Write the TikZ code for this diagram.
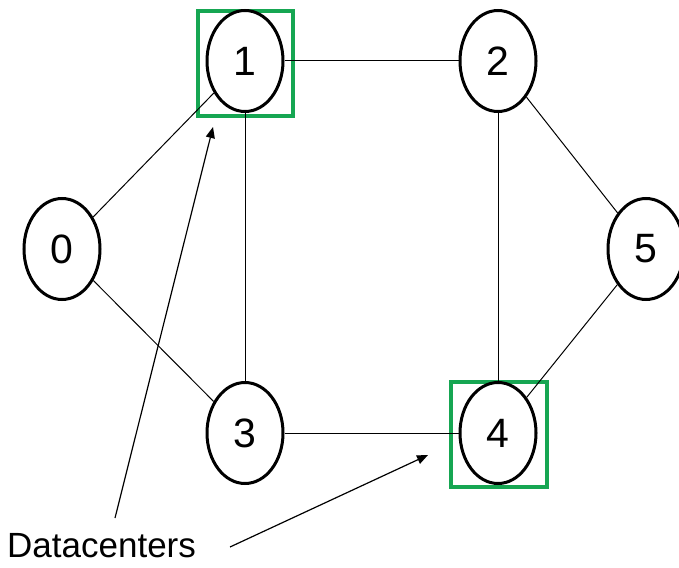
\documentclass[tikz,border=0pt]{standalone}
\usepackage{fontspec}
\setmainfont{Liberation Sans}
\usetikzlibrary{shapes.geometric,arrows.meta}
\definecolor{dcgreen}{RGB}{22,166,82}
\begin{document}
\begin{tikzpicture}[x=1pt,y=-1pt,
  vert/.style={ellipse,draw=black,fill=white,line width=3pt,minimum width=76pt,minimum height=101pt,inner sep=0pt,font=\fontsize{41}{48}\selectfont},
  dcbox/.style={rectangle,draw=dcgreen,line width=4pt,inner sep=0pt},
  edge/.style={draw=black,line width=1pt},
  pointer/.style={draw=black,line width=1.2pt,-{Triangle[length=11pt,width=9pt]}}]
\useasboundingbox (0,0) rectangle (679,567);
\node[dcbox,minimum width=95pt,minimum height=104pt] (b1) at (245,63.5) {};
\node[dcbox,minimum width=96pt,minimum height=105pt] (b4) at (498.5,434) {};
\node[vert] (n0) at (62,249) {0};
\node[vert] (n1) at (245,61) {1};
\node[vert] (n2) at (498,61) {2};
\node[vert] (n3) at (245,433) {3};
\node[vert] (n4) at (498,433) {4};
\node[vert] (n5) at (646,249) {5};
\draw[edge] (n0) -- (n1);
\draw[edge] (n0) -- (n3);
\draw[edge] (n1) -- (n2);
\draw[edge] (n1) -- (n3);
\draw[edge] (n2) -- (n4);
\draw[edge] (n2) -- (n5);
\draw[edge] (n3) -- (n4);
\draw[edge] (n4) -- (n5);
\node[anchor=base west,inner sep=0pt,font=\fontsize{35}{40}\selectfont] (lbl) at (7,557) {Datacenters};
\coordinate (s1) at (115,518);
\coordinate (t1) at (213,127);
\coordinate (s2) at (230,547);
\coordinate (t2) at (428,455);
\draw[pointer] (s1) -- (t1);
\draw[pointer] (s2) -- (t2);
\end{tikzpicture}
\end{document}
